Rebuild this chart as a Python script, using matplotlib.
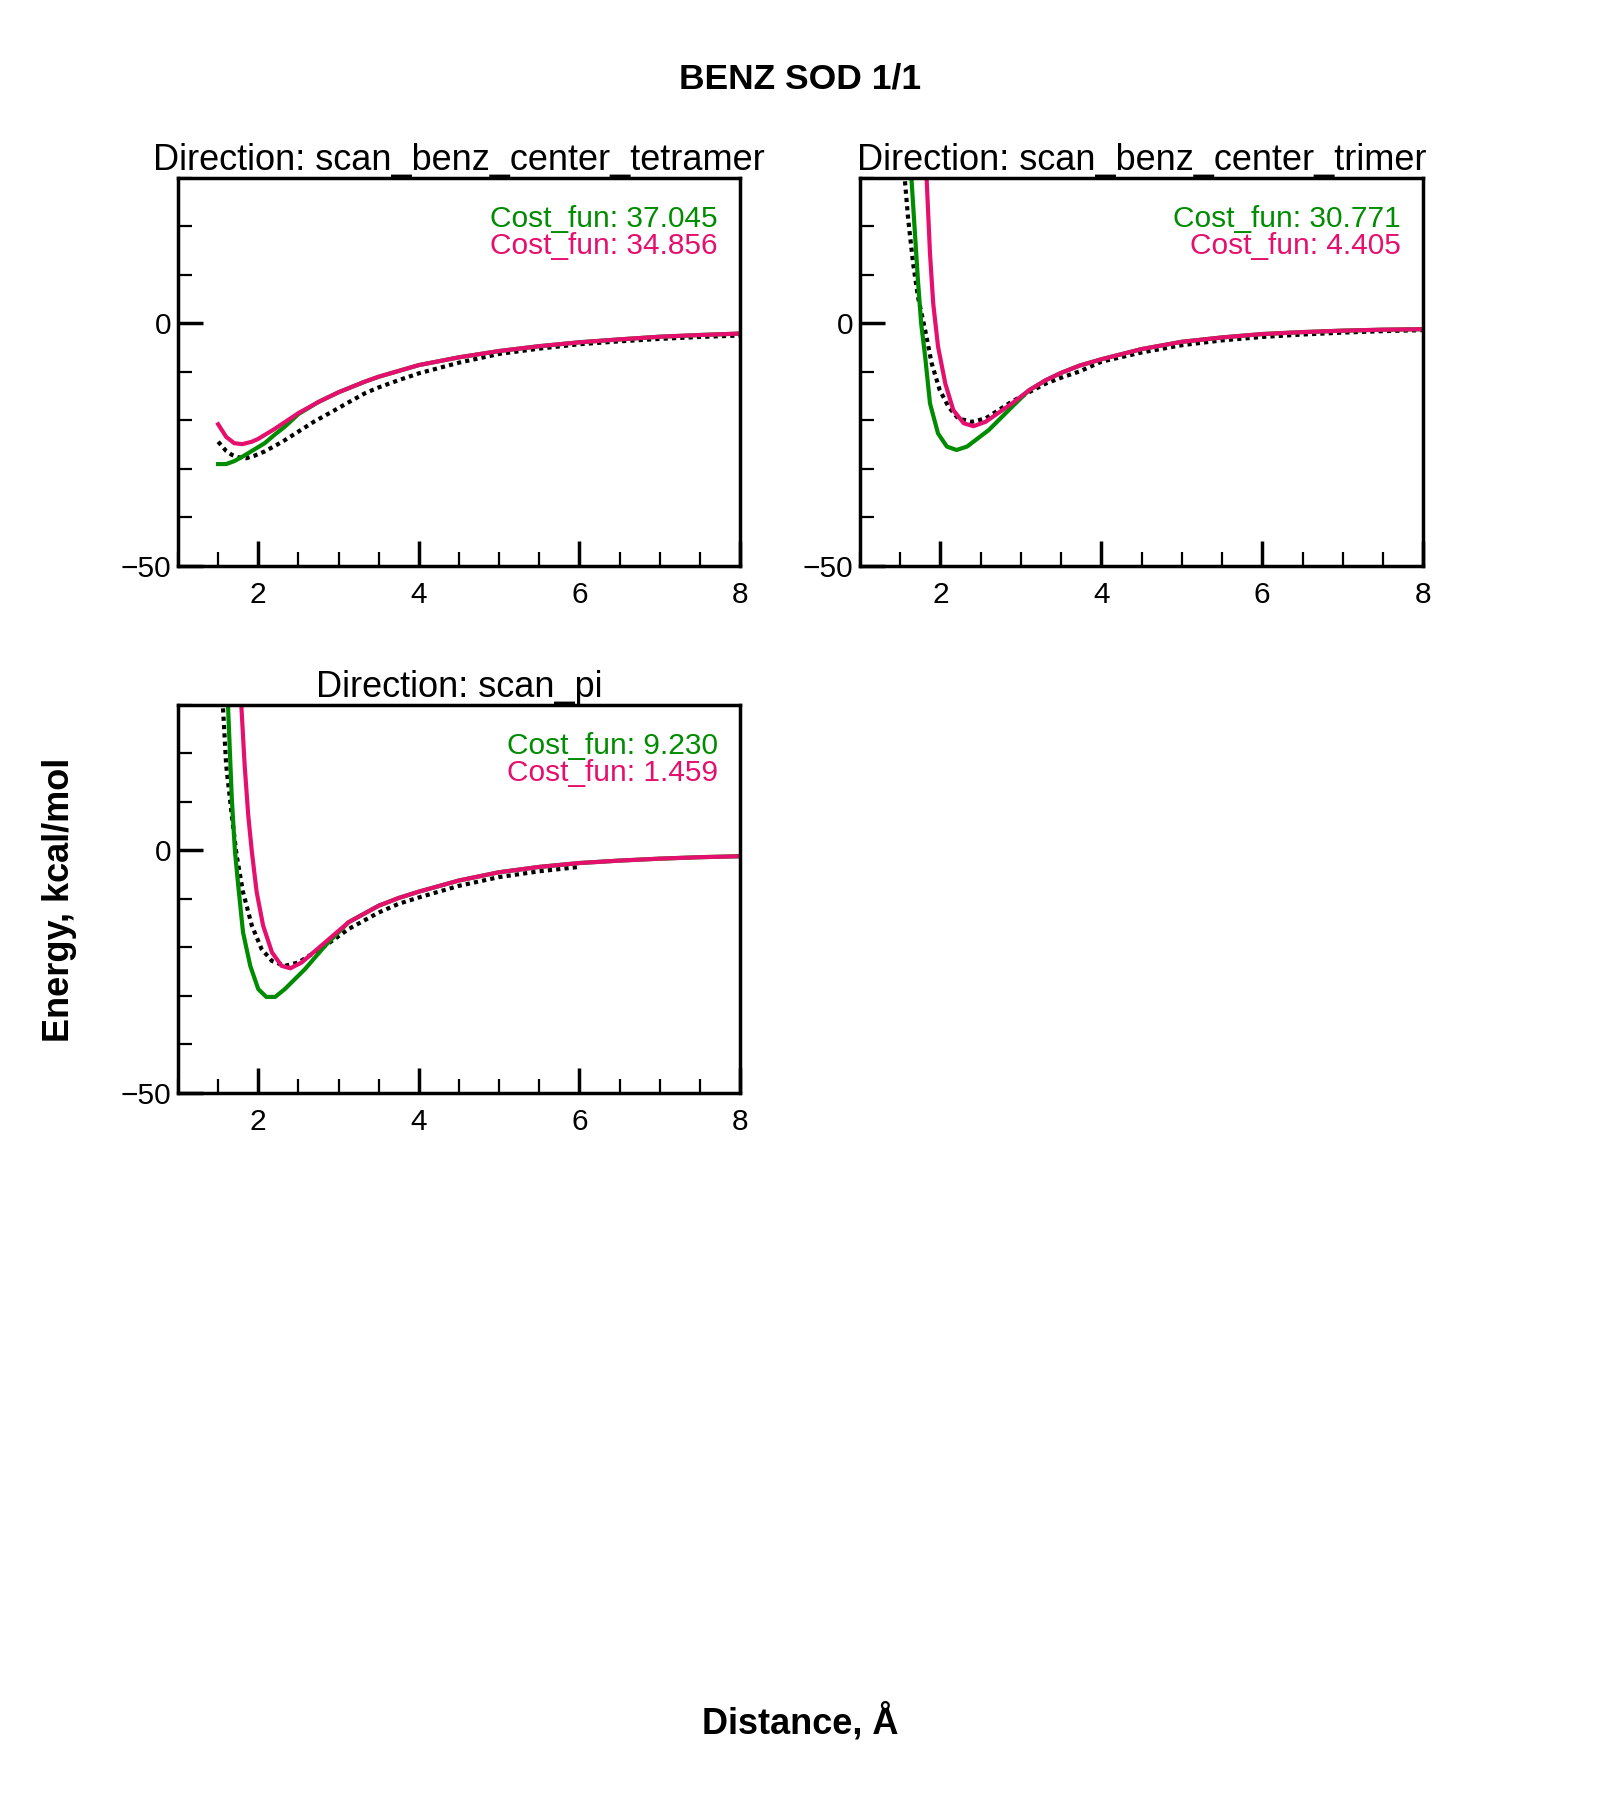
import numpy as np
import matplotlib
matplotlib.use("Agg")
import matplotlib.pyplot as plt
from matplotlib.ticker import MultipleLocator, FixedLocator

plt.rcParams['font.family'] = ['Liberation Sans', 'DejaVu Sans']

# ---- data ----
titles = ["Direction: scan_benz_center_tetramer",
          "Direction: scan_benz_center_trimer",
          "Direction: scan_pi"]

# tetramer
tet_ref_x = [1.5, 1.6, 1.67, 1.75, 1.85, 1.95, 2.08, 2.3, 2.5, 2.7, 2.92, 3.1, 3.33, 3.5, 3.75,
             4.0, 4.5, 5.0, 5.5, 6.0, 6.5, 7.0, 7.5, 8.0]
tet_ref_y = [-24.4, -26.3, -27.1, -27.6, -27.8, -27.3, -26.4, -24.4, -22.3, -20.2, -18.2, -16.5, -14.4, -13.2, -11.7,
             -10.3, -8.1, -6.3, -5.2, -4.3, -3.7, -3.2, -2.8, -2.5]
tet_g_x = [1.5, 1.6, 1.7, 1.79, 1.9, 2.08, 2.2, 2.33, 2.5, 2.75, 3.0, 3.33, 3.5,
           4.0, 4.5, 5.0, 5.5, 6.0, 6.5, 7.0, 7.5, 8.0]
tet_g_y = [-29.0, -29.0, -28.4, -27.6, -26.5, -24.7, -23.0, -21.3, -18.7, -16.2, -14.2, -12.0, -11.0,
           -8.6, -7.0, -5.7, -4.7, -3.9, -3.3, -2.75, -2.4, -2.1]
tet_p_x = [1.5, 1.6, 1.7, 1.8, 1.92, 2.0, 2.2, 2.5, 2.75, 3.0, 3.33, 3.5,
           4.0, 4.5, 5.0, 5.5, 6.0, 6.5, 7.0, 7.5, 8.0]
tet_p_y = [-20.8, -23.4, -24.7, -24.9, -24.4, -23.8, -21.8, -18.5, -16.2, -14.2, -12.0, -11.0,
           -8.6, -7.0, -5.7, -4.7, -3.9, -3.3, -2.75, -2.4, -2.1]

# trimer
tri_ref_x = [1.55, 1.60, 1.66, 1.72, 1.81, 1.89, 1.99, 2.10, 2.22, 2.39, 2.56, 2.89, 3.1, 3.31, 3.5, 3.73,
             4.0, 4.5, 5.0, 5.5, 6.0, 6.5, 7.0, 7.5, 8.0]
tri_ref_y = [31.0, 21.3, 12.4, 5.5, -1.4, -8.2, -13.7, -17.2, -19.6, -20.3, -19.6, -16.1, -14.2, -12.4, -11.2, -9.9,
             -7.9, -6.0, -4.5, -3.5, -2.8, -2.3, -1.9, -1.6, -1.4]
tri_g_x = [1.635, 1.72, 1.76, 1.81, 1.87, 1.97, 2.08, 2.20, 2.33, 2.60, 2.89, 3.1, 3.31, 3.5, 3.73,
           4.0, 4.5, 5.0, 5.5, 6.0, 6.5, 7.0, 7.5, 8.0]
tri_g_y = [31.0, 8.9, 0.0, -6.9, -16.5, -22.7, -25.4, -26.1, -25.4, -22.0, -17.2, -13.8, -11.7, -10.2, -8.7,
           -7.4, -5.3, -3.8, -2.9, -2.2, -1.8, -1.5, -1.3, -1.2]
tri_p_x = [1.825, 1.87, 1.91, 1.97, 2.06, 2.16, 2.29, 2.41, 2.56, 2.89, 3.1, 3.31, 3.5, 3.73,
           4.0, 4.5, 5.0, 5.5, 6.0, 6.5, 7.0, 7.5, 8.0]
tri_p_y = [31.0, 14.4, 4.1, -4.8, -12.4, -17.9, -20.6, -21.2, -20.3, -16.5, -13.8, -11.7, -10.2, -8.7,
           -7.4, -5.3, -3.8, -2.9, -2.2, -1.8, -1.5, -1.3, -1.2]

# pi
pi_ref_x = [1.555, 1.60, 1.67, 1.73, 1.81, 1.92, 2.04, 2.17, 2.33, 2.5, 2.83, 3.125, 3.5, 3.75,
            4.0, 4.5, 5.0, 5.5, 6.0]
pi_ref_y = [31.0, 17.6, 7.2, -1.0, -8.6, -15.5, -20.3, -22.8, -23.8, -23.1, -19.7, -16.2, -12.8, -11.0,
            -9.7, -7.3, -5.5, -4.3, -3.4]
pi_g_x = [1.62, 1.67, 1.71, 1.75, 1.81, 1.90, 2.0, 2.10, 2.21, 2.33, 2.58, 2.83, 3.125, 3.5, 3.75,
          4.0, 4.5, 5.0, 5.5, 6.0, 6.5, 7.0, 7.5, 8.0]
pi_g_y = [31.0, 10.7, -0.3, -7.2, -16.9, -23.8, -28.6, -30.2, -30.2, -28.6, -24.5, -19.7, -14.8, -11.4, -9.8,
          -8.5, -6.2, -4.5, -3.4, -2.6, -2.1, -1.7, -1.4, -1.2]
pi_p_x = [1.785, 1.83, 1.875, 1.92, 1.98, 2.06, 2.17, 2.29, 2.40, 2.54, 2.83, 3.125, 3.5, 3.75,
          4.0, 4.5, 5.0, 5.5, 6.0, 6.5, 7.0, 7.5, 8.0]
pi_p_y = [31.0, 17.6, 7.2, -0.3, -8.6, -15.5, -21.0, -23.8, -24.3, -23.1, -19.0, -14.8, -11.4, -9.8,
          -8.5, -6.2, -4.5, -3.4, -2.6, -2.1, -1.7, -1.4, -1.2]

cost_green = ["37.045", "30.771", "9.230"]
cost_pink = ["34.856", "4.405", "1.459"]

green = '#008c00'
pink = '#e5106e'

panels = [
    (tet_ref_x, tet_ref_y, tet_g_x, tet_g_y, tet_p_x, tet_p_y),
    (tri_ref_x, tri_ref_y, tri_g_x, tri_g_y, tri_p_x, tri_p_y),
    (pi_ref_x, pi_ref_y, pi_g_x, pi_g_y, pi_p_x, pi_p_y),
]

positions = [
    [0.11125, 0.6856, 0.35125, 0.2156],
    [0.5375, 0.6856, 0.352, 0.2156],
    [0.11125, 0.3928, 0.35125, 0.2156],
]

fig = plt.figure(figsize=(16, 18), dpi=100)

for i in range(3):
    ax = fig.add_axes(positions[i])
    rx, ry, gx, gy, px, py = panels[i]
    ax.plot(rx, ry, color='black', lw=3.0, linestyle=(0, (1, 1)), dash_capstyle='butt')
    ax.plot(gx, gy, color=green, lw=3.0)
    ax.plot(px, py, color=pink, lw=3.0)

    ax.set_xlim(1, 8)
    ax.set_ylim(-50, 30)
    ax.xaxis.set_major_locator(FixedLocator([2, 4, 6, 8]))
    ax.xaxis.set_minor_locator(MultipleLocator(0.5))
    ax.yaxis.set_major_locator(FixedLocator([-50, 0]))
    ax.yaxis.set_minor_locator(MultipleLocator(10))
    ax.tick_params(which='both', direction='in', top=False, right=False, labelsize=21.5)
    ax.tick_params(which='major', length=18, width=2.5)
    ax.tick_params(which='minor', length=10, width=1.6)
    ax.tick_params(axis='x', which='major', pad=11)
    ax.tick_params(axis='y', which='major', pad=5)
    for s in ax.spines.values():
        s.set_linewidth(2.5)

    ax.set_title(titles[i], fontsize=26, pad=4)
    ax.text(0.96, 0.894, "Cost_fun: " + cost_green[i], color=green, fontsize=21.5,
            ha='right', va='center', transform=ax.transAxes)
    ax.text(0.96, 0.824, "Cost_fun: " + cost_pink[i], color=pink, fontsize=21.5,
            ha='right', va='center', transform=ax.transAxes)

fig.text(0.5, 0.956, "BENZ SOD 1/1", fontsize=25.5, fontweight='bold', ha='center', va='center')
fig.text(0.037, 0.5, "Energy, kcal/mol", fontsize=26, fontweight='bold', rotation=90,
         ha='center', va='center')
fig.text(0.5, 1 - 1722 / 1800, "Distance, Å", fontsize=26, fontweight='bold', ha='center', va='center')

fig.savefig("out.png", dpi=100)
